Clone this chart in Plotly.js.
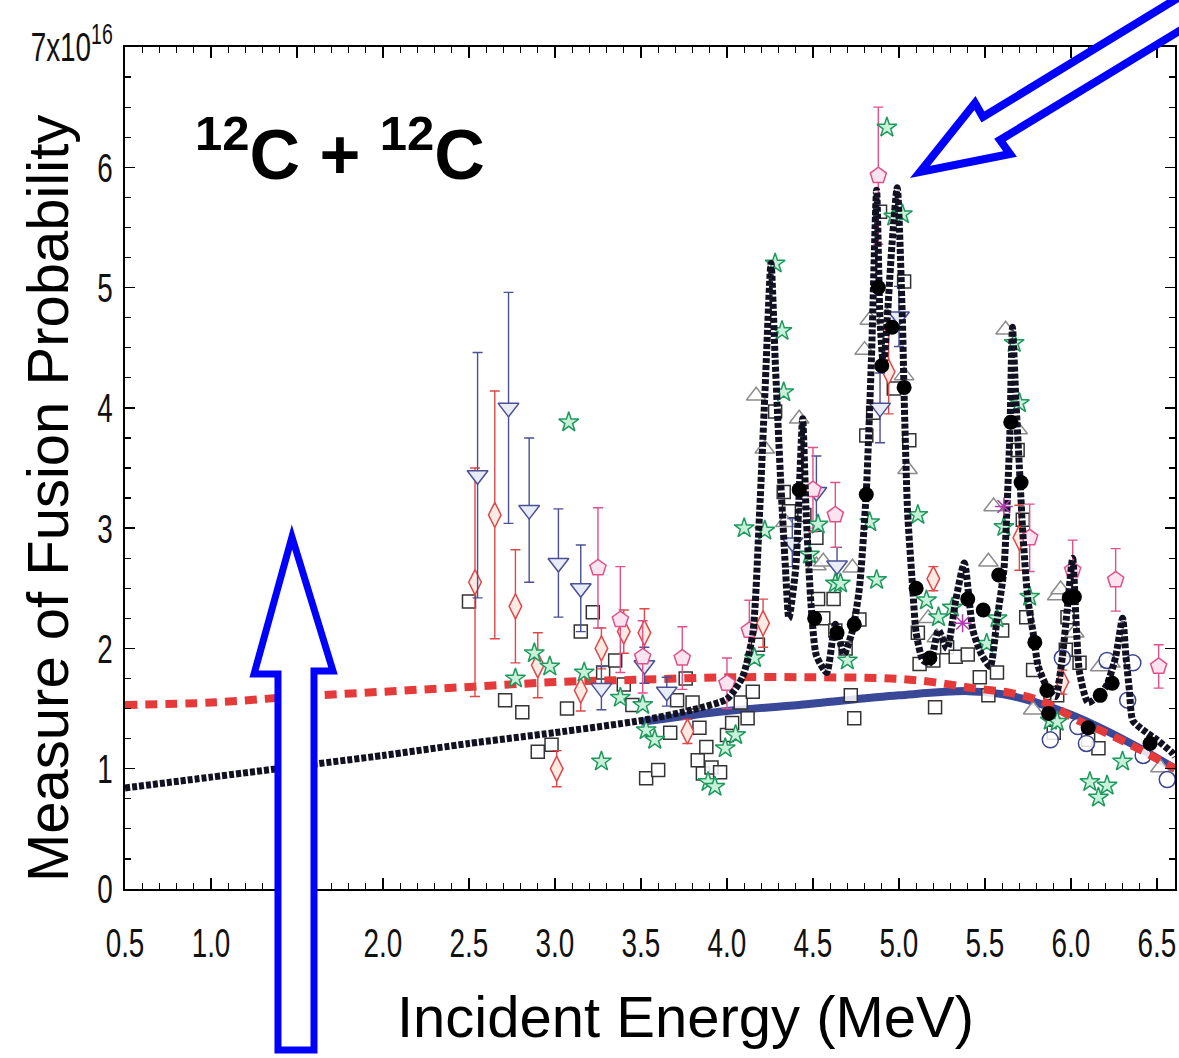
<!DOCTYPE html>
<html>
<head>
<meta charset="utf-8">
<script src="https://cdn.plot.ly/plotly-3.0.1.min.js"></script>
<style>html,body{margin:0;padding:0;background:#fff;}#chart{width:1179px;height:1058px;}</style>
</head>
<body>
<div id="chart"></div>
<script>
// ---------- data (energy in MeV, value in units of 1e16) ----------
const xTickVals = [0.5, 1.0, 1.5, 2.0, 2.5, 3.0, 3.5, 4.0, 4.5, 5.0, 5.5, 6.0, 6.5];
const xTickText = ["0.5","1.0","1.5","2.0","2.5","3.0","3.5","4.0","4.5","5.0","5.5","6.0","6.5"];
const yTickVals = [0, 1, 2, 3, 4, 5, 6, 7];
const yTickText = ["0","1","2","3","4","5","6","7x10<sup>16</sup>"];

// resonance fit (black dotted)
const fitE = [0.5,1.0,1.5,2.0,2.5,3.0,3.5,3.8,4.0,4.09,4.15,4.19,4.22,4.256,4.28,4.31,4.34,4.36,4.40,4.42,4.44,4.46,4.49,4.52,4.58,4.63,4.68,4.73,4.77,4.81,4.84,4.87,4.89,4.91,4.96,4.99,5.02,5.03,5.05,5.08,5.10,5.14,5.18,5.23,5.28,5.33,5.38,5.43,5.48,5.53,5.57,5.61,5.63,5.645,5.66,5.68,5.70,5.72,5.75,5.78,5.81,5.86,5.91,5.95,5.98,6.01,6.03,6.05,6.10,6.17,6.21,6.26,6.30,6.32,6.34,6.36,6.44,6.50,6.59,6.605];
const fitY = [0.84,0.93,1.02,1.11,1.21,1.30,1.40,1.49,1.58,1.76,2.12,3.14,4.10,5.20,4.41,3.46,2.67,2.25,2.67,3.30,3.91,3.14,2.34,1.94,1.80,2.20,1.95,2.15,2.50,3.30,4.41,5.81,4.73,4.35,5.37,5.83,4.73,4.10,3.14,2.50,2.13,1.90,1.88,2.15,2.00,2.40,2.71,2.15,1.95,1.85,2.24,2.65,3.23,3.79,4.67,4.06,3.51,2.96,2.40,2.13,1.85,1.68,1.60,1.93,2.35,2.75,2.21,1.80,1.55,1.62,1.70,1.93,2.25,1.93,1.65,1.40,1.30,1.24,1.13,1.10];

// smooth background (blue solid)
const bgE = [3.5,4.0,4.42,5.0,5.4,5.6,5.8,6.0,6.2,6.4,6.605];
const bgY = [1.39,1.48,1.53,1.61,1.645,1.62,1.55,1.45,1.32,1.17,1.00];

// second model (red dashed)
const modE = [0.5,1.0,1.5,2.0,2.5,3.0,3.5,4.0,4.5,4.95,5.2,5.43,5.65,5.85,6.03,6.23,6.4,6.605];
const modY = [1.53,1.55,1.60,1.64,1.68,1.72,1.74,1.76,1.76,1.75,1.72,1.67,1.63,1.55,1.41,1.28,1.16,1.00];

// open squares
const sqE = [2.50,2.71,2.81,2.90,2.98,3.07,3.15,3.22,3.28,3.35,3.40,3.45,3.53,3.60,3.67,3.71,3.76,3.80,3.84,3.83,3.88,3.86,3.91,3.96,4.00,4.03,4.08,4.12,4.15,4.18,4.28,4.33,4.36,4.45,4.52,4.53,4.56,4.62,4.63,4.69,4.72,4.74,4.77,4.81,4.85,4.89,4.97,5.03,5.06,5.11,5.12,5.20,5.21,5.28,5.33,5.40,5.47,5.52,5.57,5.60,5.69,5.72,5.74,5.78,5.88,5.90,5.92,5.98,5.97,6.05,6.10,6.16];
const sqY = [2.39,1.57,1.47,1.14,1.20,1.50,2.14,2.30,1.80,1.90,1.70,1.53,0.92,0.99,1.30,1.57,1.75,1.55,1.34,1.07,1.18,0.96,1.01,0.97,1.28,1.38,1.55,1.42,1.64,2.03,3.97,3.30,3.14,3.11,2.92,2.41,2.25,2.41,2.15,2.00,1.61,1.42,2.24,3.77,3.96,5.63,4.16,5.05,3.73,2.13,1.87,1.90,1.51,2.01,1.93,1.95,1.76,1.61,1.80,2.15,3.65,3.07,2.26,1.82,1.63,1.30,1.61,2.26,1.99,1.88,1.24,1.17];

// open triangles up (grey)
const tuE = [4.17,4.22,4.34,4.42,4.52,4.56,4.73,4.80,4.83,4.93,5.03,5.05,5.17,5.22,5.52,5.55,5.62,5.69,5.78,5.92,5.94,6.02,6.17,6.23,6.52];
const tuY = [4.10,3.66,3.05,3.91,2.69,2.72,2.67,4.48,4.73,4.76,4.27,3.49,2.25,2.09,2.72,3.18,4.65,3.82,1.49,2.44,2.49,2.13,1.85,1.88,1.01];

// open triangles down (navy) with errors
const tdE = [2.55,2.73,2.85,3.02,3.15,3.27,3.52,3.65,4.38,4.52,4.64,4.89,5.00];
const tdY = [3.44,4.00,3.15,2.71,2.50,1.67,1.86,1.64,2.88,3.30,2.69,4.00,4.76];
const tdErr = [1.02,0.96,0.60,0.45,0.36,0.18,0.15,0.12,0.20,0.30,0.15,0.29,0.25];

// open diamonds (red) with errors
const dmE = [2.535,2.65,2.77,2.90,3.01,3.15,3.27,3.40,3.52,3.77,4.21,4.94,5.20,5.70,5.95];
const dmY = [2.55,3.11,2.35,1.86,1.00,1.65,2.00,2.14,2.13,1.31,2.21,4.30,2.58,2.92,1.72];
const dmErr = [0.95,1.03,0.47,0.27,0.15,0.17,0.17,0.18,0.20,0.10,0.20,0.35,0.10,0.27,0.10];

// open pentagons (pink) with errors
const ptE = [3.25,3.38,3.51,3.74,4.00,4.13,4.50,4.63,4.88,5.76,6.01,6.26,6.51];
const ptY = [2.67,2.24,1.93,1.92,1.71,2.15,3.32,3.11,5.93,2.92,2.65,2.57,1.85];
const ptErr = [0.50,0.44,0.30,0.26,0.21,0.25,0.35,0.27,0.57,0.28,0.25,0.26,0.18];

// stars (green)
const stE = [2.77,2.88,2.97,3.08,3.17,3.27,3.38,3.51,3.53,3.58,3.89,3.93,3.99,4.05,4.10,4.16,4.22,4.28,4.32,4.33,4.48,4.53,4.63,4.66,4.70,4.83,4.87,4.93,4.97,5.02,5.11,5.16,5.23,5.31,5.51,5.57,5.61,5.67,5.70,5.76,5.88,5.92,6.11,6.16,6.21,6.30];
const stY = [1.75,1.96,1.85,3.88,1.80,1.06,1.59,1.53,1.32,1.24,0.89,0.85,1.17,1.28,3.00,1.92,2.98,5.20,4.64,4.13,2.78,3.03,2.54,2.54,1.90,3.05,2.57,6.33,5.59,5.61,3.11,2.40,2.26,2.34,2.04,2.25,3.01,4.54,4.04,2.43,1.40,1.39,0.89,0.76,0.86,1.06];

// filled black circles
const bcE = [4.42,4.51,4.64,4.74,4.81,4.88,4.90,4.96,5.03,5.10,5.18,5.40,5.49,5.58,5.65,5.71,5.79,5.86,5.87,5.99,6.02,6.10,6.17,6.24,6.46];
const bcY = [3.32,2.25,2.13,2.20,3.28,5.00,4.35,4.67,4.17,2.50,1.92,2.41,2.32,2.61,3.88,3.38,2.05,1.65,1.46,2.42,2.43,1.34,1.61,1.71,1.21];

// open circles (navy)
const ocE = [5.88,5.95,6.04,6.09,6.21,6.33,6.36,6.42,6.56];
const ocY = [1.24,1.92,1.35,1.21,1.90,1.57,1.88,1.11,0.91];

// asterisks (magenta)
const asE = [5.37,5.61];
const asY = [2.21,3.18];

// ---------- decoration geometry (pixel outlines of the two blue arrows) ----------
const upArrowPx = [[278,1050],[278,674],[254,674],[292,537],[333,671],[314,671],[314,1050]];
const diagArrowPx = [[920,172],[975,103],[983,117],[1240,-40],[1240,-6],[1000,140],[1010,154]];

const PL = 125, PT = 47, PW = 1050, PH = 842;
function toPaperPath(pts){
  return pts.map((p,i)=>(i?'L':'M')+((p[0]-PL)/PW).toFixed(4)+','+((PT+PH-p[1])/PH).toFixed(4)).join(' ')+' Z';
}

const sans = "Liberation Sans, Arial, Helvetica, sans-serif";

function errs(arr, color){
  return {type:'data', array:arr, visible:true, color:color, thickness:1.4, width:5};
}

const traces = [
  {x:bgE, y:bgY, mode:'lines', line:{color:'#3a4898', width:8, shape:'spline'}, hoverinfo:'skip'},
  {x:sqE, y:sqY, mode:'markers', marker:{symbol:'square', size:13, color:'rgba(255,255,255,0.85)', line:{color:'#333333', width:1.5}}},
  {x:tuE, y:tuY, mode:'markers', marker:{symbol:'triangle-up', size:17, color:'rgba(255,255,255,0.85)', line:{color:'#8c8c8c', width:1.5}}},
  {x:ocE, y:ocY, mode:'markers', marker:{symbol:'circle', size:16, color:'rgba(255,255,255,0.85)', line:{color:'#3c4490', width:1.5}}},
  {x:modE, y:modY, mode:'lines', line:{color:'#e43a3a', width:8, dash:'12px,8px', shape:'spline'}, hoverinfo:'skip'},
  {x:dmE, y:dmY, error_y:errs(dmErr,'#e04848'), mode:'markers', marker:{symbol:'diamond-tall', size:18, color:'#fdebe3', line:{color:'#e04848', width:1.5}}},
  {x:tdE, y:tdY, error_y:errs(tdErr,'#4a4f96'), mode:'markers', marker:{symbol:'triangle-down', size:18, color:'#e8ecf8', line:{color:'#4a4f96', width:1.5}}},
  {x:ptE, y:ptY, error_y:errs(ptErr,'#e0508a'), mode:'markers', marker:{symbol:'pentagon', size:17, color:'#fbe3ef', line:{color:'#e0508a', width:1.5}}},
  {x:stE, y:stY, mode:'markers', marker:{symbol:'star', size:15, color:'#c9f0d9', line:{color:'#1f9a5e', width:1.5}}},
  {x:fitE, y:fitY, mode:'lines', line:{color:'#111122', width:7, dash:'5px,2px', shape:'spline', smoothing:0.6}, hoverinfo:'skip'},
  {x:bcE, y:bcY, mode:'markers', marker:{symbol:'circle', size:15, color:'#000000'}},
  {x:asE, y:asY, mode:'markers', marker:{symbol:'asterisk-open', size:15, color:'#b03cb0', line:{color:'#b03cb0', width:1.5}}}
];

const axisCommon = {
  showline:true, linecolor:'#000', linewidth:2, mirror:'allticks',
  ticks:'inside', tickcolor:'#000', tickwidth:1.5, showgrid:false, zeroline:false,
  automargin:false, ticklabeloverflow:'allow', tickfont:{family:sans, size:41, color:'#111'}
};

const layout = {
  width:1179, height:1058,
  margin:{l:PL, r:1179-PL-PW, t:PT, b:1058-PT-PH, pad:0},
  paper_bgcolor:'#ffffff', plot_bgcolor:'#ffffff',
  showlegend:false,
  xaxis:Object.assign({}, axisCommon, {
    range:[0.5, 6.605], tickmode:'array', tickvals:xTickVals, ticktext:xTickText,
    ticklen:11, ticklabelstandoff:17,
    minor:{tick0:0.5, dtick:0.1, ticks:'inside', ticklen:6, tickwidth:1.2, tickcolor:'#000'}
  }),
  yaxis:Object.assign({}, axisCommon, {
    range:[0, 7], tickmode:'array', tickvals:yTickVals, ticktext:yTickText,
    ticklen:10, ticklabelstandoff:2,
    minor:{tick0:0, dtick:0.25, ticks:'inside', ticklen:6, tickwidth:1.2, tickcolor:'#000'}
  }),
  annotations:[
    {text:'Measure of Fusion Probability', xref:'paper', yref:'paper', x:(47-PL)/PW, y:(PT+PH-499)/PH,
     xanchor:'center', yanchor:'middle', textangle:-90, showarrow:false, font:{family:sans, size:58, color:'#000'}},
    {text:'Incident Energy (MeV)', xref:'paper', yref:'paper', x:(685-PL)/PW, y:(PT+PH-1016)/PH,
     xanchor:'center', yanchor:'middle', showarrow:false, font:{family:sans, size:58, color:'#000'}},
    {text:'<b><sup>12</sup>C + <sup>12</sup>C</b>', xref:'paper', yref:'paper', x:(340-PL)/PW, y:(PT+PH-150)/PH,
     xanchor:'center', yanchor:'middle', showarrow:false, font:{family:sans, size:70, color:'#000'}}
  ],
  shapes:[
    {type:'path', xref:'paper', yref:'paper', path:toPaperPath(upArrowPx), fillcolor:'#ffffff', line:{color:'#0000ff', width:7}, layer:'above'},
    {type:'path', xref:'paper', yref:'paper', path:toPaperPath(diagArrowPx), fillcolor:'#ffffff', line:{color:'#0000ff', width:8}, layer:'above'}
  ]
};

// tick labels in the reference are set in a tall, condensed face: squeeze them horizontally
function condenseTicks(){
  document.querySelectorAll('#chart .xtick text, #chart .ytick text').forEach(t => {
    const x = parseFloat(t.getAttribute('x')) || 0;
    const y = parseFloat(t.getAttribute('y')) || 0;
    const tr = t.getAttribute('transform') || '';
    t.setAttribute('transform', tr + ' translate(' + x + ',' + y + ') scale(0.68,1) translate(' + (-x) + ',' + (-y) + ')');
  });
}

Plotly.newPlot('chart', traces, layout, {staticPlot:true, displayModeBar:false}).then(condenseTicks);
</script>
</body>
</html>
